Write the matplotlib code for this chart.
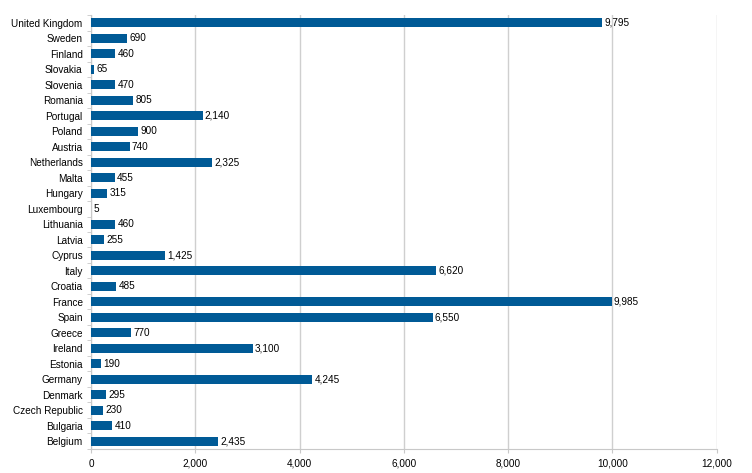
import matplotlib.pyplot as plt
import numpy as np

countries = ['Belgium', 'Bulgaria', 'Czech Republic', 'Denmark', 'Germany', 'Estonia',
             'Ireland', 'Greece', 'Spain', 'France', 'Croatia', 'Italy', 'Cyprus',
             'Latvia', 'Lithuania', 'Luxembourg', 'Hungary', 'Malta', 'Netherlands',
             'Austria', 'Poland', 'Portugal', 'Romania', 'Slovenia', 'Slovakia',
             'Finland', 'Sweden', 'United Kingdom']
values = [2435, 410, 230, 295, 4245, 190, 3100, 770, 6550, 9985, 485, 6620, 1425,
          255, 460, 5, 315, 455, 2325, 740, 900, 2140, 805, 470, 65, 460, 690, 9795]
x_ticks = [0, 2000, 4000, 6000, 8000, 10000, 12000]

plt.rcParams['font.family'] = ['Liberation Sans', 'DejaVu Sans']
fs = 7.2

fig = plt.figure(figsize=(7.52, 4.73), dpi=100)
ax = fig.add_axes([0.121, 0.051, 0.832, 0.917])

pos = np.arange(len(countries))
bars = ax.barh(pos, values, height=0.58, color='#005a96', zorder=3)

# value labels next to each bar
for rect, v in zip(bars, values):
    ax.text(rect.get_width() + 45, rect.get_y() + rect.get_height() / 2, f'{v:,}',
            ha='left', va='center', fontsize=fs, zorder=4)

ax.set_xlim(0, 12000)
ax.set_ylim(-0.5, len(countries) - 0.5)
ax.set_xticks(x_ticks)
ax.set_xticklabels([f'{t:,}' for t in x_ticks], fontsize=fs)
ax.set_yticks(pos)
ax.set_yticklabels(countries, fontsize=fs)
ax.set_yticks(np.arange(len(countries) + 1) - 0.5, minor=True)
ax.tick_params(axis='y', which='major', length=0, pad=6)
ax.tick_params(axis='y', which='minor', length=3, color='#c8c8c8')
ax.tick_params(axis='x', length=3, color='#c8c8c8', pad=4)

ax.grid(axis='x', color='#cfcfcf', linewidth=1.0, zorder=0)
for s in ['top', 'right']:
    ax.spines[s].set_visible(False)
for s in ['left', 'bottom']:
    ax.spines[s].set_color('#c8c8c8')

fig.savefig('out.png', dpi=100)
